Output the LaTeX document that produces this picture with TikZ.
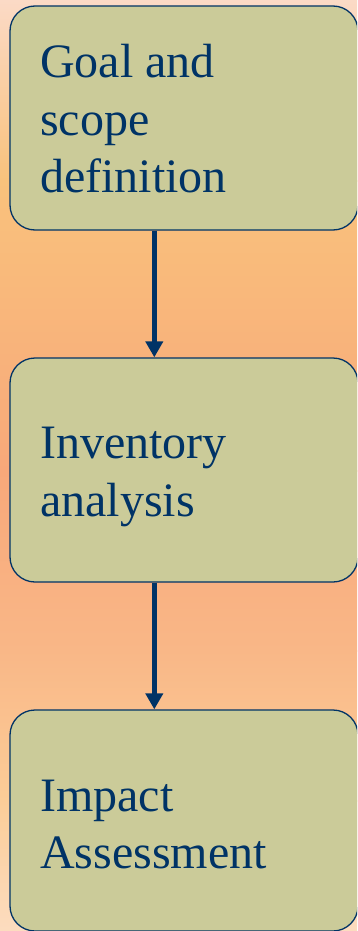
\documentclass[tikz,border=0pt]{standalone}
\usepackage{fontspec}
\setmainfont{Liberation Serif}
\usetikzlibrary{arrows.meta}
\definecolor{navy}{HTML}{003366}
\definecolor{khaki}{HTML}{CBCB99}
\definecolor{bgA}{HTML}{FBDAC6}
\definecolor{bgB}{HTML}{F9C27C}
\definecolor{bgC}{HTML}{F8A87A}
\definecolor{bgD}{HTML}{F9B787}
\definecolor{bgE}{HTML}{FBCD98}
\definecolor{bgF}{HTML}{FCDCBF}
\tikzset{
  stage/.style={draw=navy, line width=1.3pt, fill=khaki, rounded corners=25pt,
    minimum width=348pt, inner sep=0pt},
  caption/.style={anchor=west, inner sep=0pt, align=left, text=navy,
    font=\fontsize{48}{57.5}\selectfont},
  flow/.style={draw=navy, line width=5.5pt,
    -{Triangle[length=16pt,width=17pt]}},
  band/.style={draw=none}
}
\begin{document}
\begin{tikzpicture}[x=1pt,y=-1pt]
  \useasboundingbox (0,0) rectangle (357,931);
  \clip (0,0) rectangle (357,931);
  % warm vertical background
  \shade[band, top color=bgA, bottom color=bgB] (0,0) rectangle (357,181);
  \shade[band, top color=bgB, bottom color=bgC] (0,180) rectangle (357,471);
  \shade[band, top color=bgC, bottom color=bgD] (0,470) rectangle (357,651);
  \shade[band, top color=bgD, bottom color=bgE] (0,650) rectangle (357,801);
  \shade[band, top color=bgE, bottom color=bgF] (0,800) rectangle (357,931);
  % the three stages
  \node[stage, minimum height=224pt] (goal) at (184,118) {};
  \node[stage, minimum height=224pt] (inv) at (184,470) {};
  \node[stage, minimum height=221pt] (imp) at (184,820.5) {};
  \node[caption] (goaltxt) at (40,119) {Goal and\\scope\\definition};
  \node[caption] (invtxt) at (40,477) {Inventory\\analysis};
  \node[caption] (imptxt) at (40,824.5) {Impact\\Assessment};
  % connectors
  \coordinate (ax) at (154.3,0);
  \draw[flow] (goal.south -| ax) -- (inv.north -| ax);
  \draw[flow] (inv.south -| ax) -- (imp.north -| ax);
\end{tikzpicture}
\end{document}
